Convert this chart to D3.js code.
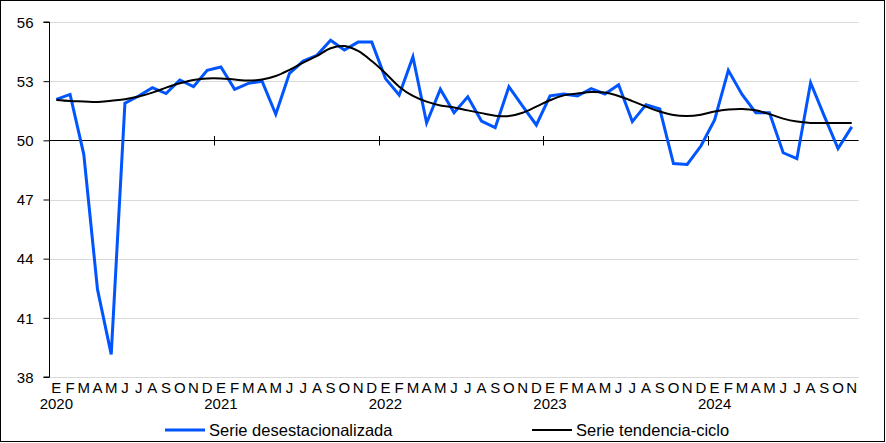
<!DOCTYPE html>
<html>
<head>
<meta charset="utf-8">
<script src="https://cdn.jsdelivr.net/npm/d3@7"></script>
<style>
  html, body { margin: 0; padding: 0; background: #fff; }
  svg { display: block; }
  text { font-family: "Liberation Sans", Arial, sans-serif; fill: #000; }
</style>
</head>
<body>
<svg id="chart" width="886" height="443"></svg>
<script>
// ---- Data ----
const monthLetters = ["E","F","M","A","M","J","J","A","S","O","N","D"];
const years = [2020, 2021, 2022, 2023, 2024];
const nMonths = 59; // Jan 2020 .. Nov 2024

const desestacionalizada = [
  52.08, 52.33, 49.29, 42.44, 39.15, 51.88, 52.25, 52.67, 52.37, 53.06, 52.72, 53.55,
  53.72, 52.59, 52.89, 53.00, 51.32, 53.40, 54.02, 54.31, 55.07, 54.58, 54.98, 54.98,
  53.13, 52.30, 54.24, 50.88, 52.59, 51.40, 52.21, 50.98, 50.64, 52.72, 51.74, 50.78,
  52.26, 52.35, 52.25, 52.62, 52.35, 52.82, 50.95, 51.81, 51.59, 48.82, 48.78, 49.71,
  51.03, 53.55, 52.33, 51.40, 51.40, 49.37, 49.07, 52.92, 51.23, 49.58, 50.68
];

const tendencia = [
  52.04, 51.99, 51.97, 51.94, 52.01, 52.08, 52.22, 52.42, 52.67, 52.89, 53.06, 53.14,
  53.14, 53.08, 53.03, 53.08, 53.26, 53.57, 53.94, 54.28, 54.67, 54.78, 54.53, 54.02,
  53.40, 52.72, 52.25, 51.96, 51.77, 51.67, 51.52, 51.38, 51.25, 51.23, 51.40, 51.71,
  52.03, 52.28, 52.37, 52.45, 52.42, 52.25, 51.99, 51.71, 51.46, 51.28, 51.23, 51.30,
  51.46, 51.56, 51.59, 51.52, 51.33, 51.10, 50.95, 50.88, 50.88, 50.88, 50.88
];

const yTicks = [38, 41, 44, 47, 50, 53, 56];
const seriesNames = ["Serie desestacionalizada", "Serie tendencia-ciclo"];
const seriesColors = ["#0055ff", "#000000"];

// ---- Chart ----
const svg = d3.select("#chart");
const W = 886, H = 443;
const plotL = 49.5, plotR = 858.6, plotT = 22, plotB = 377;

svg.append("rect").attr("x", 0).attr("y", 0).attr("width", W).attr("height", H).attr("fill", "#fff");
svg.append("rect").attr("x", 0.5).attr("y", 0.5).attr("width", 884).attr("height", 441)
  .attr("fill", "none").attr("stroke", "#000").attr("stroke-width", 1);

const idx = d3.range(nMonths);
const x = d3.scalePoint().domain(idx).range([plotL, plotR]).padding(0.5);
const step = x.step();
const y = d3.scaleLinear().domain([38, 56]).range([plotB, plotT]);

// gridlines
svg.append("g").selectAll("line").data(yTicks.filter(t => t !== 50)).join("line")
  .attr("x1", plotL).attr("x2", plotR)
  .attr("y1", d => Math.round(y(d)) + 0.5).attr("y2", d => Math.round(y(d)) + 0.5)
  .attr("stroke", "#d9d9d9").attr("stroke-width", 1);

// y axis
const yAxis = d3.axisLeft(y).tickValues(yTicks).tickSize(6).tickPadding(10).tickFormat(d3.format("d"));
const gy = svg.append("g").attr("transform", `translate(${plotL},0)`).call(yAxis);
gy.select(".domain").attr("stroke", "#000").attr("d", `M-6,${plotT}H0V${plotB}H-6`);
gy.selectAll(".tick line").attr("stroke", "#000");
gy.selectAll(".tick text").attr("font-size", 15).attr("font-family", "Liberation Sans, Arial, sans-serif").attr("fill", "#000").attr("dy", "0.35em");

// x axis line at 50
const y50 = Math.round(y(50)) + 0.5;
svg.append("line").attr("x1", plotL).attr("x2", plotR).attr("y1", y50).attr("y2", y50)
  .attr("stroke", "#000").attr("stroke-width", 1);
// year separator ticks
svg.append("g").selectAll("line").data(years.slice(1)).join("line")
  .attr("x1", (d, i) => Math.round(x((i + 1) * 12) - step / 2) + 0.5)
  .attr("x2", (d, i) => Math.round(x((i + 1) * 12) - step / 2) + 0.5)
  .attr("y1", y50 - 4.5).attr("y2", y50 + 5)
  .attr("stroke", "#000").attr("stroke-width", 1);

// month labels
svg.append("g").selectAll("text").data(idx).join("text")
  .attr("x", d => x(d)).attr("y", 393)
  .attr("text-anchor", "middle").attr("font-size", 15)
  .text(d => monthLetters[d % 12]);

// year labels
svg.append("g").selectAll("text").data(years).join("text")
  .attr("x", (d, i) => x(i * 12)).attr("y", 409)
  .attr("text-anchor", "middle").attr("font-size", 15)
  .text(d => d);

// lines
const lineStraight = d3.line().x((d, i) => x(i)).y(d => y(d));
const lineSmooth = d3.line().x((d, i) => x(i)).y(d => y(d)).curve(d3.curveCatmullRom.alpha(0.5));

svg.append("path").datum(desestacionalizada)
  .attr("d", lineStraight).attr("fill", "none")
  .attr("stroke", seriesColors[0]).attr("stroke-width", 3).attr("stroke-linejoin", "miter");

svg.append("path").datum(tendencia)
  .attr("d", lineSmooth).attr("fill", "none")
  .attr("stroke", seriesColors[1]).attr("stroke-width", 2);

// legend
const legendItems = [
  { name: seriesNames[0], color: seriesColors[0], width: 3, x0: 165 },
  { name: seriesNames[1], color: seriesColors[1], width: 2, x0: 532 }
];
const lg = svg.append("g");
legendItems.forEach(it => {
  lg.append("line").attr("x1", it.x0).attr("x2", it.x0 + 40).attr("y1", 430).attr("y2", 430)
    .attr("stroke", it.color).attr("stroke-width", it.width);
  lg.append("text").attr("x", it.x0 + 44).attr("y", 435.5).attr("font-size", 16.5).text(it.name);
});
</script>
</body>
</html>
